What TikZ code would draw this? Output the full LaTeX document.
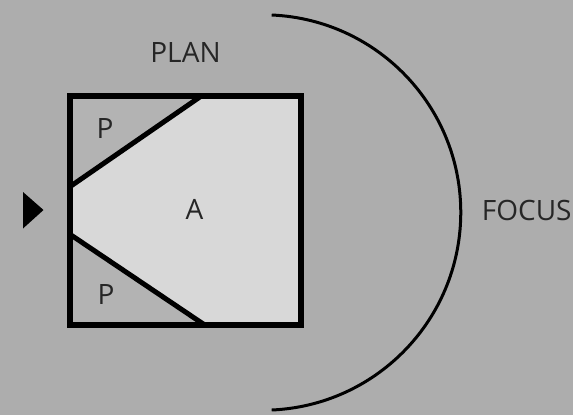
\documentclass[tikz,border=0pt]{standalone}
\usepackage{fontspec}
\setmainfont{Open Sans}
\usetikzlibrary{calc,positioning}
\definecolor{figBack}{HTML}{ADADAD}
\definecolor{figLight}{HTML}{D8D8D8}
\definecolor{figDark}{HTML}{B3B3B3}
\definecolor{figText}{HTML}{262626}

\begin{document}
\begin{tikzpicture}[x=1pt, y=-1pt,
  every node/.style={font=\fontsize{28}{30}\selectfont, text=figText, inner sep=0pt},
  wall/.style={draw=black, line width=6pt, line join=miter},
  cut/.style={draw=black, line width=5pt},
  lens/.style={draw=black, line width=3pt},
]
\useasboundingbox (0,0) rectangle (573,415);
\fill[figBack] (0,0) rectangle (573,415);

% Room corners and cut points
\coordinate (nw) at (69.5,95.5);
\coordinate (ne) at (300.5,95.5);
\coordinate (se) at (300.5,324.5);
\coordinate (sw) at (69.5,324.5);
\coordinate (topcut) at (202,95.5);
\coordinate (botcut) at (204,324.5);
\coordinate (lefthi) at (69.5,187);
\coordinate (leftlo) at (69.5,234);

% Areas
\fill[figDark] (nw) -- (topcut) -- (lefthi) -- cycle;
\fill[figDark] (sw) -- (botcut) -- (leftlo) -- cycle;
\fill[figLight] (topcut) -- (ne) -- (se) -- (botcut) -- (leftlo) -- (lefthi) -- cycle;

% Walls
\draw[cut] (lefthi) -- (topcut);
\draw[cut] (leftlo) -- (botcut);
\draw[wall] (nw) -- (ne) -- (se) -- (sw) -- cycle;

% Entry mark
\fill[black] (23,192) -- (43.5,210) -- (23,228.5) -- cycle;

% Focus arc
\coordinate (arctop) at (271.7,15);
\draw[lens] (arctop) arc[start angle=-87.5, end angle=87.5, radius=197.7];

% Labels
\node (plan) at (185.5,52.3) {PLAN};
\node (focus) at (526.7,210.5) {FOCUS};
\node (ptop) at (105,129) {P};
\node (pbot) at (106,295) {P};
\node (aa) at (194.6,209) {A};

\end{tikzpicture}
\end{document}
